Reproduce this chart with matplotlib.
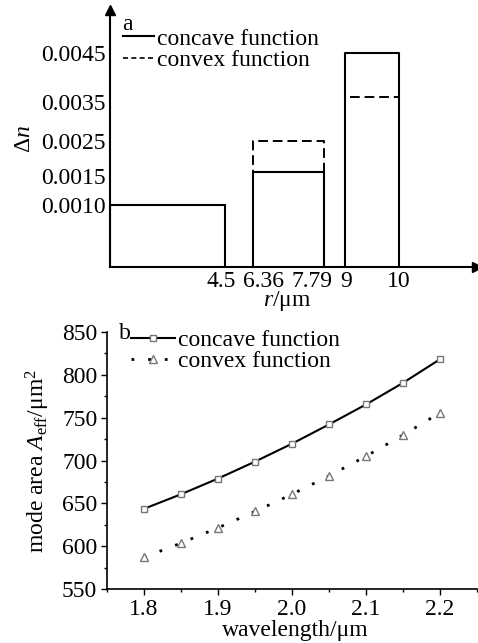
import numpy as np
import matplotlib
matplotlib.use("Agg")
import matplotlib.pyplot as plt
from matplotlib.lines import Line2D
from matplotlib.transforms import ScaledTranslation

plt.rcParams['font.family'] = ['Liberation Serif', 'DejaVu Serif']
plt.rcParams['mathtext.fontset'] = 'custom'
plt.rcParams['mathtext.rm'] = 'Liberation Serif'
plt.rcParams['mathtext.it'] = 'Liberation Serif:italic'
plt.rcParams['font.size'] = 17

# panel a: index step profile
r_start = [0, 6.36, 9]
r_end = [4.5, 7.79, 10]
dn_concave = [0.0010, 0.0015, 0.0045]
dn_convex = [0.0010, 0.0025, 0.0035]
r_ticks = [4.5, 6.36, 7.79, 9, 10]
dn_ticks = [0.0010, 0.0015, 0.0025, 0.0035, 0.0045]
dn_ticklabels = ['0.0010', '0.0015', '0.0025', '0.0035', '0.0045']

# panel b: mode area vs wavelength
wavelength = [1.80, 1.85, 1.90, 1.95, 2.00, 2.05, 2.10, 2.15, 2.20]
area_concave = [643.6, 660.6, 678.9, 698.7, 719.6, 742.1, 765.4, 790.6, 818.2]
area_convex = [586.9, 603.6, 621.4, 640.5, 660.6, 682.0, 705.0, 729.7, 755.7]

W, H = 478, 643
fig = plt.figure(figsize=(W / 100, H / 100), dpi=100)

# schematic (non-linear) axes of panel a, piecewise linear scales
xk_data = [-1, 0, 4.5, 6.36, 7.79, 9, 10, 11.5, 13]
xk_pos = [-25.6, 0, 115, 143, 214, 235, 289, 367, 445]
yk_data = [-0.001, 0, 0.0010, 0.0015, 0.0025, 0.0035, 0.0045, 0.0052, 0.006]
yk_pos = [-62, 0, 62, 95, 126, 170, 214, 257, 300]


def fx(v):
    return np.interp(v, xk_data, xk_pos)


def fx_inv(p):
    return np.interp(p, xk_pos, xk_data)


def fy(v):
    return np.interp(v, yk_data, yk_pos)


def fy_inv(p):
    return np.interp(p, yk_pos, yk_data)


ax1 = fig.add_axes([110 / W, (H - 267) / H, (477 - 110) / W, (267 - 10) / H])
ax1.set_xscale('function', functions=(fx, fx_inv))
ax1.set_yscale('function', functions=(fy, fy_inv))
ax1.set_xlim(0, 11.5)
ax1.set_ylim(0, 0.0052)

for r0, r1, h in zip(r_start, r_end, dn_convex):
    ax1.plot([r0, r0, r1, r1], [0, h, h, 0], color='black', lw=1.4,
             dashes=(5, 2.5), solid_capstyle='butt')
for r0, r1, h in zip(r_start, r_end, dn_concave):
    ax1.plot([r0, r0, r1, r1], [0, h, h, 0], color='black', lw=1.5)

for s in ['top', 'right']:
    ax1.spines[s].set_visible(False)
ax1.spines['left'].set_linewidth(1.5)
ax1.spines['bottom'].set_linewidth(1.5)
ax1.plot(1, 0, '>k', ms=7, transform=ax1.get_yaxis_transform(), clip_on=False)
ax1.plot(0, 1, '^k', ms=7, transform=ax1.get_xaxis_transform(), clip_on=False)

ax1.set_xticks(r_ticks)
ax1.set_xticklabels([str(v) for v in r_ticks])
ax1.set_yticks(dn_ticks)
ax1.set_yticklabels(dn_ticklabels)
ax1.minorticks_off()
ax1.tick_params(length=0, pad=3)
x_shift = [-4, 11, -12, 1, 0]
for lab, dx in zip(ax1.get_xticklabels(), x_shift):
    lab.set_transform(lab.get_transform() + ScaledTranslation(dx / 100, 0, fig.dpi_scale_trans))
y_shift = [0, -4, 0, -5, 0]
for lab, dy in zip(ax1.get_yticklabels(), y_shift):
    lab.set_transform(lab.get_transform() + ScaledTranslation(0, dy / 100, fig.dpi_scale_trans))

ax1.set_ylabel(r'$\Delta$$n$')
ax1.yaxis.set_label_coords(-0.205, 0.5)
ax1.set_xlabel(r'$r$/μm')
ax1.xaxis.set_label_coords(0.482, -0.085)
ax1.text(0.046, 0.945, 'a', transform=ax1.transAxes, ha='center', va='center')

h1 = [Line2D([], [], color='black', lw=1.5),
      Line2D([], [], color='black', lw=1.2, dashes=(3, 2))]
ax1.legend(h1, ['concave function', 'convex function'], loc='upper left',
           bbox_to_anchor=(0.035, 0.93), frameon=False, borderpad=0,
           borderaxespad=0, handlelength=1.3, handletextpad=0.15,
           labelspacing=0.0)

# panel b
ax2 = fig.add_axes([107 / W, (H - 589) / H, 370 / W, 257 / H])
ax2.plot(wavelength, area_concave, color='black', lw=1.5, marker='s', ms=5,
         mfc='white', mec='#777777', mew=1.0, label='concave function')
ax2.plot(wavelength, area_convex, color='black', lw=2.0, ls=(0, (1, 5)),
         marker='^', ms=6, mfc='white', mec='#777777', mew=1.0,
         label='convex function')
ax2.set_xlim(1.75, 2.25)
ax2.set_ylim(550, 850)
ax2.set_xticks([1.8, 1.9, 2.0, 2.1, 2.2])
ax2.set_xticks([1.75, 1.85, 1.95, 2.05, 2.15, 2.25], minor=True)
ax2.set_yticks(range(550, 851, 50))
ax2.set_yticks(range(575, 850, 50), minor=True)
ax2.set_xticklabels(['1.8', '1.9', '2.0', '2.1', '2.2'])
for s in ['top', 'right']:
    ax2.spines[s].set_visible(False)
ax2.spines['left'].set_linewidth(1.2)
ax2.spines['bottom'].set_linewidth(1.2)
ax2.tick_params(which='major', direction='out', length=4, width=1.0, pad=3)
ax2.tick_params(which='minor', direction='out', length=2, width=1.0)

ax2.set_ylabel(r'mode area $A_{\mathrm{eff}}$/μm$^2$')
ax2.yaxis.set_label_coords(-0.148, 0.5)
ax2.set_xlabel('wavelength/μm')
ax2.xaxis.set_label_coords(0.51, -0.12)
ax2.text(0.049, 0.995, 'b', transform=ax2.transAxes, ha='center', va='center')
ax2.legend(loc='upper left', bbox_to_anchor=(0.065, 1.01), frameon=False,
           borderpad=0, borderaxespad=0, handlelength=1.85,
           handletextpad=0.15, labelspacing=0.0)

fig.savefig('out.png', dpi=100)
